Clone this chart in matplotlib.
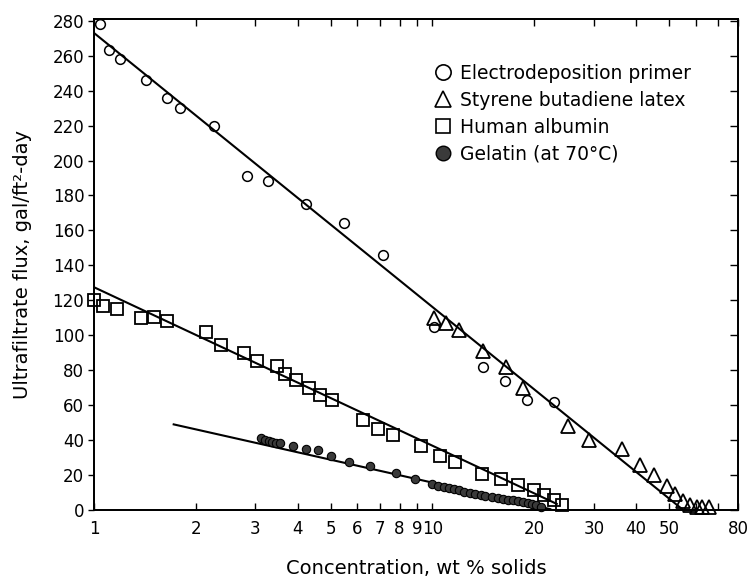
import matplotlib
matplotlib.use("Agg")
import matplotlib.pyplot as plt
from matplotlib.lines import Line2D
from matplotlib.ticker import FixedLocator, FixedFormatter, NullLocator

# electrodeposition primer (open circles)
primer_x = [1.04, 1.11, 1.19, 1.42, 1.64, 1.80, 2.27, 2.83, 3.27, 4.23, 5.49, 7.16,
            10.1, 14.1, 16.4, 19.0, 22.9]
primer_y = [278, 263, 258, 246, 236, 230, 220, 191, 188, 175, 164, 146,
            105, 82, 74, 63, 62]

# styrene butadiene latex (open triangles)
latex_x = [10.1, 11.0, 12.0, 14.1, 16.5, 18.5, 25.2, 29.1, 36.3, 41.1, 45.3, 49.2,
           52.1, 55.1, 57.6, 60.4, 62.5, 65.5]
latex_y = [110, 107, 103, 91, 82, 70, 48, 40, 35, 26, 20, 14,
           9, 5, 3, 2, 1.5, 1.5]

# human albumin (open squares)
albumin_x = [1.0, 1.065, 1.17, 1.38, 1.50, 1.64, 2.15, 2.38, 2.77, 3.04, 3.48, 3.67,
             3.95, 4.33, 4.65, 5.04, 6.22, 6.92, 7.66, 9.23, 10.5, 11.7, 14.0, 15.9,
             17.9, 19.9, 21.3, 22.8, 24.1]
albumin_y = [120, 117, 115, 110, 110.5, 108, 102, 94.5, 90, 85, 82.5, 78,
             74.5, 70, 66, 63, 51.5, 46.5, 43, 36.5, 31, 27.5, 20.5, 17.8,
             14.5, 11.5, 8.5, 5.5, 3]

# gelatin at 70 C (filled circles)
gelatin_x = [3.11, 3.2, 3.28, 3.36, 3.45, 3.55, 3.88, 4.22, 4.6, 5.01, 5.68, 6.54,
             7.8, 8.9, 9.95, 10.4, 10.8, 11.2, 11.6, 12.0, 12.4, 12.9, 13.4, 13.9,
             14.3, 15.0, 15.6, 16.2, 16.7, 17.3, 17.9, 18.5, 19.2, 19.7, 20.3, 21.0]
gelatin_y = [41, 40, 39.5, 39, 38.5, 38.5, 36.5, 35, 34.5, 31, 27.5, 25,
             21, 18, 15, 14, 13, 12.5, 12, 11.5, 10.5, 10, 9, 8.5,
             8, 7.5, 7, 6.5, 6, 5.5, 5, 4.5, 4, 3.5, 3, 2]

# fitted straight lines (end points)
primer_fit_x = [1.0, 55.1]
primer_fit_y = [273, 0]
albumin_fit_x = [1.0, 23.3]
albumin_fit_y = [127.5, 3.5]
gelatin_fit_x = [1.72, 22.3]
gelatin_fit_y = [49, 0.5]

x_ticks = [1, 2, 3, 4, 5, 6, 7, 8, 9, 10, 20, 30, 40, 50, 60, 70, 80]
x_tick_labels = ["1", "2", "3", "4", "5", "6", "7", "8", "9", "10", "20", "30", "40", "50", "", "", "80"]
y_ticks = list(range(0, 281, 20))

legend_labels = ["Electrodeposition primer", "Styrene butadiene latex",
                 "Human albumin", "Gelatin (at 70°C)"]

plt.rcParams["font.family"] = ["DejaVu Sans"]

fig = plt.figure(figsize=(7.47, 5.82), dpi=100)
ax = fig.add_axes([0.1258, 0.1237, 0.988 - 0.1258, 0.9674 - 0.1237])

ax.plot(primer_fit_x, primer_fit_y, color="black", lw=1.5, zorder=2)
ax.plot(albumin_fit_x, albumin_fit_y, color="black", lw=1.5, zorder=2)
ax.plot(gelatin_fit_x, gelatin_fit_y, color="black", lw=1.5, zorder=2)

ax.plot(primer_x, primer_y, "o", ms=7, mfc="none", mec="black", mew=1.1, clip_on=False, zorder=3)
ax.plot(latex_x, latex_y, "^", ms=10.5, mfc="none", mec="black", mew=1.3, clip_on=False, zorder=3)
ax.plot(albumin_x, albumin_y, "s", ms=8.5, mfc="none", mec="black", mew=1.3, clip_on=False, zorder=3)
ax.plot(gelatin_x, gelatin_y, "o", ms=6, mfc="#3a3a3a", mec="black", mew=0.8, clip_on=False, zorder=3)

ax.set_xscale("log")
ax.set_xlim(1, 80)
ax.set_ylim(0, 281)

ax.xaxis.set_major_locator(FixedLocator(x_ticks))
ax.xaxis.set_major_formatter(FixedFormatter(x_tick_labels))
ax.xaxis.set_minor_locator(NullLocator())
ax.set_yticks(y_ticks)

ax.tick_params(axis="x", which="major", direction="in", top=True, length=5, width=1.0,
               labelsize=12, pad=7)
ax.tick_params(axis="y", which="major", direction="out", length=4, width=1.0,
               labelsize=12, pad=3)
# inward ticks on the right side
ax2 = ax.twinx()
ax2.set_ylim(ax.get_ylim())
ax2.set_yticks(y_ticks)
ax2.tick_params(axis="y", direction="in", length=6, width=1.0, labelright=False)
for a in (ax, ax2):
    for s in a.spines.values():
        s.set_linewidth(1.3)

ax.set_xlabel("Concentration, wt % solids", fontsize=14, labelpad=15)
ax.set_ylabel("Ultrafiltrate flux, gal/ft²-day", fontsize=14, labelpad=15)

handles = [
    Line2D([], [], ls="none", marker="o", ms=11, mfc="none", mec="black", mew=1.2),
    Line2D([], [], ls="none", marker="^", ms=11.5, mfc="none", mec="black", mew=1.2),
    Line2D([], [], ls="none", marker="s", ms=10, mfc="none", mec="black", mew=1.2),
    Line2D([], [], ls="none", marker="o", ms=10.5, mfc="#3a3a3a", mec="black", mew=1.0),
]
ax.legend(handles, legend_labels, loc="upper left", bbox_to_anchor=(434 / 747, 1 - 64 / 582),
          bbox_transform=fig.transFigure, frameon=False, fontsize=13.5, handlelength=1.0,
          handletextpad=0.4, labelspacing=0.42, borderpad=0, borderaxespad=0)

fig.savefig("out.png", dpi=100)
